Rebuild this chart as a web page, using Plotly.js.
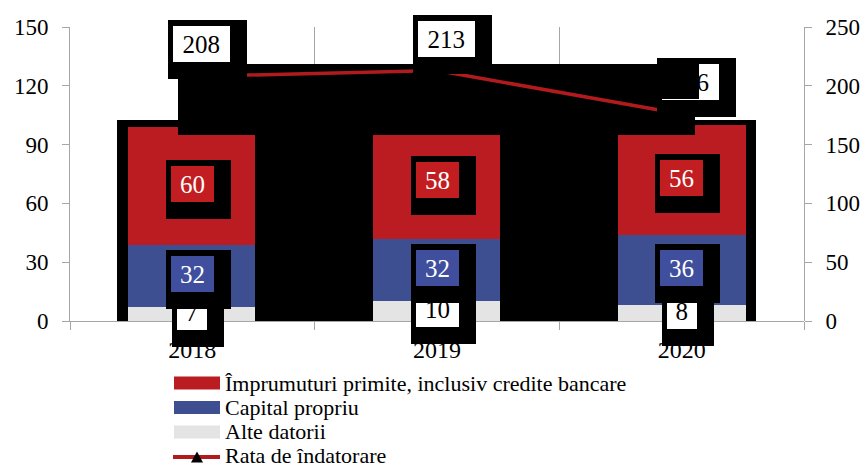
<!DOCTYPE html>
<html><head><meta charset="utf-8">
<script src="https://cdn.plot.ly/plotly-3.0.1.min.js"></script>
<style>html,body{margin:0;padding:0;background:#fff}#chart{width:868px;height:468px}</style>
</head><body><div id="chart"></div>
<script>
// ---------- data ----------
const years = ['2018', '2019', '2020'];
const imprumuturi = [60, 58, 56];
const capitalPropriu = [32, 32, 36];
const alteDatorii = [7, 10, 8];
const rataIndatorare = [208, 213, 176];
const seriesNames = ['Împrumuturi primite, inclusiv credite bancare', 'Capital propriu', 'Alte datorii', 'Rata de îndatorare'];
const leftTicks = [0, 30, 60, 90, 120, 150];
const rightTicks = [0, 50, 100, 150, 200, 250];

// ---------- style / geometry ----------
const FONT = '"Liberation Serif", "Times New Roman", serif';
const W = 868, H = 468, L = 70, R = 64, T = 27, B = 147;
const PW = W - L - R, PH = H - T - B;
const RED = '#BA1C21', BLUE = '#3D4F90', GREY = '#E4E4E4', LINE = '#B11B1D';
const AX = '#A6A6A6';
// pixel helpers (decoration only)
const px2cat = px => (px - L) / (PW / 3) - 0.5;
const py2y = py => (T + PH - py) * 150 / PH;
const py2y2 = py => (T + PH - py) * 250 / PH;
const px2p = px => (px - L) / PW;
const py2p = py => (T + PH - py) / PH;

const traces = [
  {type: 'bar', x: years, y: alteDatorii, name: seriesNames[2], marker: {color: GREY}, showlegend: false, hoverinfo: 'skip'},
  {type: 'bar', x: years, y: capitalPropriu, name: seriesNames[1], marker: {color: BLUE}, showlegend: false, hoverinfo: 'skip'},
  {type: 'bar', x: years, y: imprumuturi, name: seriesNames[0], marker: {color: RED}, showlegend: false, hoverinfo: 'skip'},
  {type: 'scatter', mode: 'lines+markers', x: years, y: rataIndatorare, name: seriesNames[3], xaxis: 'x2', yaxis: 'y2',
   line: {color: LINE, width: 3.5}, marker: {symbol: 'triangle-up', size: 11, color: '#000'}, showlegend: false, hoverinfo: 'skip'}
];

// ---------- data labels (annotations with black "shadow" boxes) ----------
// category axes: annotation x is the category index
const annotations = [];
function label(ci, yval, text, xref, yref, xs, ys, bg, fg) {
  const w = 16 + 13.5 * String(text).length, h = 36;
  annotations.push({xref, yref, x: ci, y: yval, text: ' ', showarrow: false, xanchor: 'center', yanchor: 'middle',
    xshift: xs + 6, yshift: ys - 5.5, width: w + 22, height: h + 23, bgcolor: '#000', borderpad: 0, borderwidth: 0,
    font: {family: FONT, size: 25, color: '#000'}});
  annotations.push({xref, yref, x: ci, y: yval, text: String(text), showarrow: false, xanchor: 'center', yanchor: 'middle',
    xshift: xs, yshift: ys, width: w, height: h, bgcolor: bg, borderpad: 0, borderwidth: 0,
    font: {family: FONT, size: 25, color: fg}});
}
years.forEach((yr, i) => label(i, alteDatorii[i] / 2, alteDatorii[i], 'x', 'y', 0, 2, '#FFFFFF', '#000'));
years.forEach((yr, i) => label(i, alteDatorii[i] + capitalPropriu[i] / 2, capitalPropriu[i], 'x', 'y', 0, 2, '#3F4F9E', '#FFFFFF'));
years.forEach((yr, i) => label(i, alteDatorii[i] + capitalPropriu[i] + imprumuturi[i] / 2, imprumuturi[i], 'x', 'y', 0, 2, '#C21E22', '#FFFFFF'));
years.forEach((yr, i) => label(i, rataIndatorare[i], rataIndatorare[i], 'x2', 'y2', 9, 32, '#FFFFFF', '#000'));
// black patch over part of the last line label (as in the reference)
annotations.push({xref: 'x2', yref: 'y2', x: 2, y: rataIndatorare[2], text: ' ', showarrow: false, xanchor: 'center', yanchor: 'middle',
  xshift: -6, yshift: 32.5, width: 46, height: 35, bgcolor: '#000', borderpad: 0, borderwidth: 0, font: {family: FONT, size: 25}});

// ---------- legend (custom, below chart) ----------
const legendRows = [383, 407.5, 432, 455];
const legendColors = [RED, BLUE, GREY];
const shapes = [];
legendColors.forEach((c, i) => shapes.push({type: 'rect', xref: 'paper', yref: 'paper', layer: 'above',
  x0: px2p(174), x1: px2p(220), y0: py2p(legendRows[i] + 6.5), y1: py2p(legendRows[i] - 6.5), fillcolor: c, line: {width: 0}}));
shapes.push({type: 'line', xref: 'paper', yref: 'paper', layer: 'above', x0: px2p(173), x1: px2p(220),
  y0: py2p(457), y1: py2p(457), line: {color: LINE, width: 4}});
shapes.push({type: 'path', xref: 'paper', yref: 'paper', layer: 'above', fillcolor: '#000', line: {width: 0},
  path: `M${px2p(191)},${py2p(462.5)} L${px2p(203)},${py2p(462.5)} L${px2p(197)},${py2p(451.5)} Z`});
seriesNames.forEach((n, i) => annotations.push({xref: 'paper', yref: 'paper', x: px2p(224), y: py2p(legendRows[i]),
  text: n, showarrow: false, xanchor: 'left', yanchor: 'middle', borderpad: 0, font: {family: FONT, size: 22, color: '#000'}}));

// ---------- black rendering artefacts of the reference ----------
const blk = {fillcolor: '#000', line: {width: 0}};
// frame behind the bars
shapes.push(Object.assign({type: 'rect', xref: 'x', yref: 'y', layer: 'below',
  x0: px2cat(117), x1: px2cat(756), y0: py2y(323), y1: py2y(120)}, blk));
// regions over the bars but under the line
[[178, 695, 64, 135], [255, 372, 64, 323], [500, 617, 64, 323]].forEach(r => shapes.push(Object.assign({type: 'rect',
  xref: 'x2', yref: 'y2', layer: 'below', x0: px2cat(r[0]), x1: px2cat(r[1]), y0: py2y2(r[3]), y1: py2y2(r[2])}, blk)));

const tickFont = {family: FONT, size: 23, color: '#000'};
const layout = {
  width: W, height: H, margin: {l: L, r: R, t: T, b: B},
  paper_bgcolor: '#fff', plot_bgcolor: 'rgba(0,0,0,0)',
  barmode: 'stack', bargap: 0.477, showlegend: false,
  xaxis: {type: 'category', range: [-0.5, 2.5], tickson: 'boundaries', ticks: 'outside', ticklen: 8, tickcolor: AX,
    showline: true, linecolor: AX, showgrid: true, gridcolor: AX, gridwidth: 1, zeroline: false,
    tickfont: {family: FONT, size: 24, color: '#000'}, ticklabelstandoff: 7, fixedrange: true},
  yaxis: {range: [0, 150], tickvals: leftTicks, ticks: 'outside', ticklen: 7, tickcolor: AX, showline: true, linecolor: AX,
    showgrid: false, zeroline: false, tickfont: tickFont, ticklabelstandoff: 9, fixedrange: true},
  xaxis2: {type: 'category', range: [-0.5, 2.5], anchor: 'y2', visible: false, showgrid: false, fixedrange: true},
  yaxis2: {range: [0, 250], tickvals: rightTicks, anchor: 'x2', side: 'right', ticks: 'outside', ticklen: 7, tickcolor: AX,
    showline: true, linecolor: AX, showgrid: false, zeroline: false, tickfont: tickFont, ticklabelstandoff: 9, fixedrange: true},
  shapes, annotations
};
Plotly.newPlot('chart', traces, layout, {staticPlot: true, displayModeBar: false});
</script></body></html>
